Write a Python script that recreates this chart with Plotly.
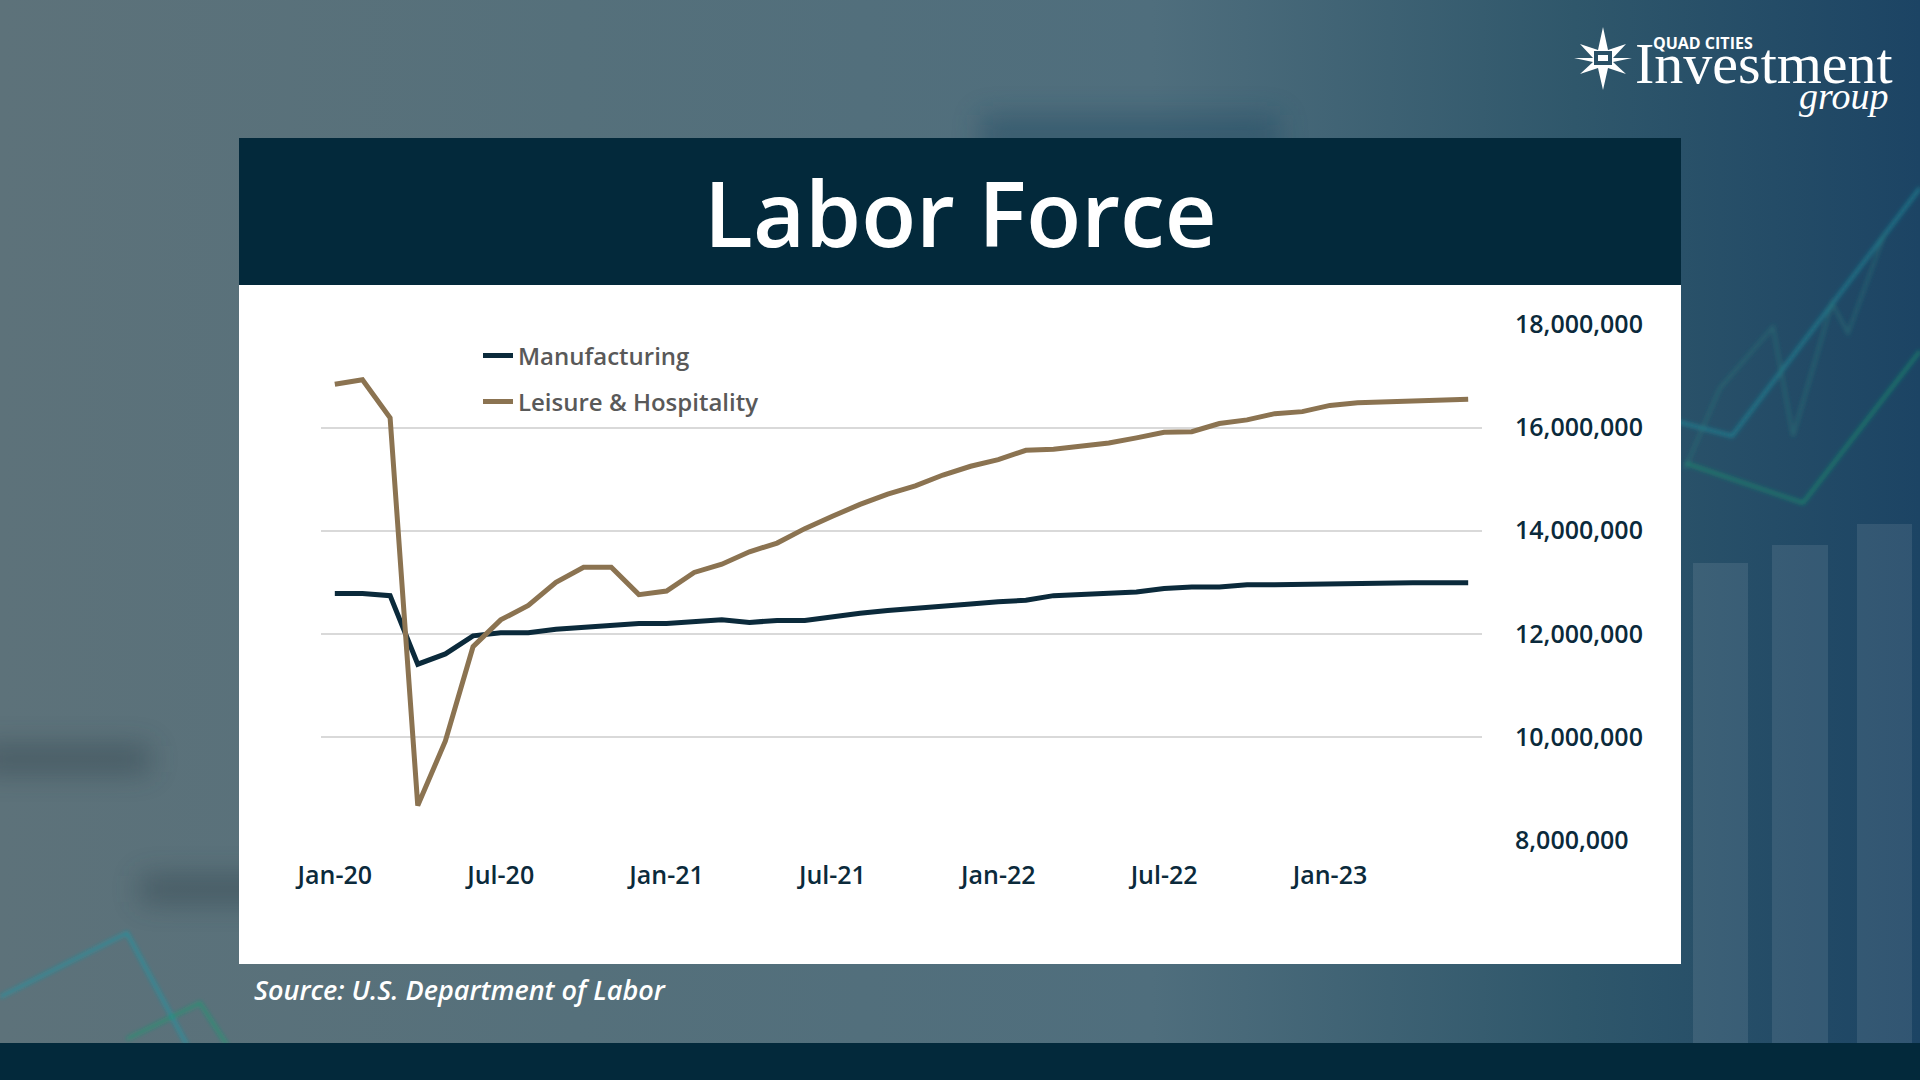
import base64
import pandas as pd
import plotly.graph_objects as go

# ---------------- data (millions of workers) ----------------
months = pd.date_range("2020-01-01", periods=42, freq="MS").strftime("%b-%y").tolist()
manufacturing = [12.78, 12.78, 12.74, 11.41, 11.61, 11.96, 12.02, 12.02, 12.09, 12.12,
                 12.17, 12.20, 12.20, 12.24, 12.27, 12.22, 12.26, 12.26, 12.34, 12.40,
                 12.45, 12.50, 12.55, 12.58, 12.62, 12.65, 12.74, 12.77, 12.78, 12.81,
                 12.88, 12.91, 12.91, 12.95, 12.95, 12.96, 12.98, 12.99, 12.99, 12.99,
                 12.99, 12.99]
leisure = [16.84, 16.93, 16.19, 8.67, 9.92, 11.75, 12.27, 12.55, 13.00, 13.29,
           13.29, 12.76, 12.83, 13.19, 13.35, 13.59, 13.76, 14.04, 14.28, 14.51,
           14.71, 14.87, 15.08, 15.25, 15.38, 15.56, 15.58, 15.63, 15.70, 15.80,
           15.91, 15.92, 16.08, 16.15, 16.27, 16.31, 16.43, 16.48, 16.50, 16.52,
           16.55, 16.55]
x_ticks = ["Jan-20", "Jul-20", "Jan-21", "Jul-21", "Jan-22", "Jul-22", "Jan-23"]
y_ticks = [8e6, 10e6, 12e6, 14e6, 16e6, 18e6]

W, H = 1920, 1080
NAVY = "#0b2a3b"
TAN = "#8b7351"
DARK = "#03293b"

def px(x):
    return x / W

def py(y):
    return 1 - y / H

# ---------------- decorative slide background (SVG) ----------------
svg = f'''<svg xmlns="http://www.w3.org/2000/svg" width="{W}" height="{H}" viewBox="0 0 {W} {H}" preserveAspectRatio="none">
<defs>
<linearGradient id="g" x1="0" y1="0" x2="1" y2="0">
<stop offset="0" stop-color="#5d727a"/>
<stop offset="0.3" stop-color="#55707b"/>
<stop offset="0.6" stop-color="#4f6e7d"/>
<stop offset="0.82" stop-color="#2f576b"/>
<stop offset="1" stop-color="#1c4464"/>
</linearGradient>
<filter id="b" x="-20%" y="-50%" width="140%" height="200%"><feGaussianBlur stdDeviation="14"/></filter>
<filter id="b2"><feGaussianBlur stdDeviation="2"/></filter>
</defs>
<rect width="{W}" height="{H}" fill="url(#g)"/>
<g filter="url(#b)" opacity="0.45">
<rect x="-20" y="745" width="170" height="28" fill="#2e3f48"/>
<rect x="140" y="875" width="200" height="28" fill="#2e3f48"/>
<rect x="980" y="115" width="300" height="40" fill="#1f4760"/>
</g>
<g opacity="0.09" fill="#ffffff">
<rect x="1693" y="563" width="55" height="480"/>
<rect x="1772" y="545" width="56" height="498"/>
<rect x="1857" y="524" width="55" height="519"/>
</g>
<g filter="url(#b2)" fill="none" stroke-width="3">
<polyline points="1675,421 1732,436 1920,188" stroke="#1f8c9a" opacity="0.8"/>
<polyline points="1685,463 1803,503 1920,351" stroke="#1b8f6e" opacity="0.8"/>
<polyline points="1685,469 1720,388 1773,327 1793,436 1832,303 1848,333 1885,233" stroke="#2f7f7c" opacity="0.45"/>
<polyline points="0,997 127,933 187,1045" stroke="#1c98a8" opacity="0.8"/>
<polyline points="127,1039 200,1003 227,1045" stroke="#1b9a72" opacity="0.8"/>
</g>
<g fill="#ffffff">
<polygon points="1603,27 1608,50 1626,44 1613,58 1632,58 1613,62 1626,74 1608,68 1603,90 1598,68 1580,74 1593,62 1574,58 1593,58 1580,44 1598,50"/>
<rect x="1594" y="51" width="18" height="14" fill="#2a5066"/>
<rect x="1598" y="55" width="10" height="6" fill="#ffffff"/>
</g>
</svg>'''
bg_src = "data:image/svg+xml;base64," + base64.b64encode(svg.encode()).decode()

fig = go.Figure()

fig.add_trace(go.Scatter(
    x=months, y=[v * 1e6 for v in manufacturing], mode="lines", name="Manufacturing",
    line=dict(color=NAVY, width=5), legend="legend"))
fig.add_trace(go.Scatter(
    x=months, y=[v * 1e6 for v in leisure], mode="lines", name="Leisure & Hospitality",
    line=dict(color=TAN, width=5), legend="legend2"))

legend_font = dict(family="Open Sans", size=24, color="#595959", weight=600)

fig.update_layout(
    width=W, height=H, autosize=False,
    margin=dict(l=0, r=0, t=0, b=0, pad=0, autoexpand=False),
    paper_bgcolor="#4f6b77",
    plot_bgcolor="rgba(0,0,0,0)",
    showlegend=True,
    legend=dict(x=px(478), y=py(356), xanchor="left", yanchor="middle",
                bgcolor="rgba(0,0,0,0)", font=legend_font, itemwidth=30),
    legend2=dict(x=px(478), y=py(402), xanchor="left", yanchor="middle",
                 bgcolor="rgba(0,0,0,0)", font=legend_font, itemwidth=30),
    xaxis=dict(
        domain=[px(321), px(1482)], type="category", range=[-0.5, 41.5],
        tickmode="array", tickvals=x_ticks, ticktext=x_ticks,
        showgrid=False, zeroline=False, showline=False, ticks="",
        tickfont=dict(family="Open Sans", size=25, color=NAVY, weight=600),
        ticklabelstandoff=18, automargin=False, fixedrange=True),
    yaxis=dict(
        domain=[py(840), py(324.5)], range=[8e6, 18e6], side="right",
        tickmode="array", tickvals=y_ticks, tickformat=",d",
        showgrid=True, gridcolor="#d9d9d9", gridwidth=2,
        zeroline=False, showline=False, ticks="",
        tickfont=dict(family="Open Sans", size=25, color=NAVY, weight=600),
        ticklabelstandoff=32, automargin=False, fixedrange=True),
    images=[dict(source=bg_src, xref="paper", yref="paper", x=0, y=1,
                 sizex=1, sizey=1, sizing="stretch", layer="below")],
    shapes=[
        dict(type="rect", xref="paper", yref="paper", x0=px(239), x1=px(1681),
             y0=py(285), y1=py(138), fillcolor=DARK, line_width=0, layer="below"),
        dict(type="rect", xref="paper", yref="paper", x0=px(239), x1=px(1681),
             y0=py(964), y1=py(285), fillcolor="#ffffff", line_width=0, layer="below"),
        dict(type="rect", xref="paper", yref="paper", x0=0, x1=1,
             y0=0, y1=py(1043), fillcolor=DARK, line_width=0, layer="below"),
    ],
    annotations=[
        dict(text="Labor Force", xref="paper", yref="paper", x=0.5, y=py(212),
             xanchor="center", yanchor="middle", showarrow=False,
             font=dict(family="Open Sans", size=90, color="#ffffff", weight=600)),
        dict(text="<i>Source: U.S. Department of Labor</i>", xref="paper", yref="paper",
             x=px(252), y=py(989), xanchor="left", yanchor="middle", showarrow=False,
             font=dict(family="Open Sans", size=27, color="#ffffff", weight=600)),
        dict(text="QUAD CITIES", xref="paper", yref="paper", x=px(1651), y=py(43),
             xanchor="left", yanchor="middle", showarrow=False,
             font=dict(family="Open Sans", size=16, color="#ffffff", weight=700)),
        dict(text="Investment", xref="paper", yref="paper", x=px(1633), y=py(63),
             xanchor="left", yanchor="middle", showarrow=False,
             font=dict(family="Liberation Serif", size=58, color="#ffffff")),
        dict(text="<i>group</i>", xref="paper", yref="paper", x=px(1890), y=py(96),
             xanchor="right", yanchor="middle", showarrow=False,
             font=dict(family="Liberation Serif", size=38, color="#ffffff")),
    ],
)

fig.write_html("out.html")
